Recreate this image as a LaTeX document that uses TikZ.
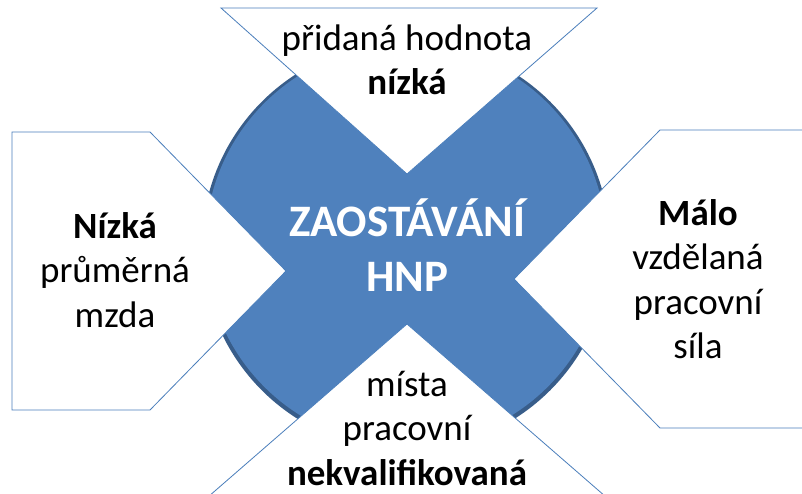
\documentclass[tikz,border=0pt]{standalone}
\usepackage{fontspec}
\setmainfont{Carlito}
\usepackage{tikz}
\usetikzlibrary{positioning}
\definecolor{hnpblue}{RGB}{79,129,189}
\definecolor{hnpdark}{RGB}{56,93,138}
\definecolor{hnpline}{RGB}{74,126,187}

\tikzset{
  causebox/.style={fill=white, draw=hnpline, line width=0.8pt, line join=miter},
  causetext/.style={align=center, inner sep=1pt, font=\fontsize{37}{44.5}\selectfont, text=black},
  maintext/.style={align=center, font=\bfseries\fontsize{45}{55}\selectfont, text=white}
}

\begin{document}
\begin{tikzpicture}[x=1pt, y=-1pt]
  \useasboundingbox (0,0) rectangle (802,494);
  \clip (0,0) rectangle (802,494);
  \fill[white] (0,0) rectangle (802,494);
  % kruh se stinem
  \fill[hnpdark] (406,246) circle[radius=204pt];
  \fill[hnpblue] (406,245) circle[radius=200.5pt];
  % ctyri bile vyrezy
  \draw[causebox] (221,8) -- (597,8) -- (407,174) -- cycle;
  \draw[causebox] (407,324) -- (621,510) -- (193,510) -- cycle;
  \draw[causebox] (12,132) -- (150,132) -- (286,271) -- (150,410) -- (12,410) -- cycle;
  \draw[causebox] (820,130) -- (660,130) -- (514,279) -- (660,428) -- (820,428) -- cycle;
  % texty
  \node[maintext] (hnp) at (407,245) {ZAOSTÁVÁNÍ\\HNP};
  \node[causetext] (pridana) at (407,60) {přidaná hodnota\\\textbf{nízká}};
  \node[causetext] (mzda) at (115,270) {\textbf{Nízká}\\průměrná\\mzda};
  \node[causetext] (sila) at (698,279) {\textbf{Málo}\\vzdělaná\\pracovní\\síla};
  \node[causetext] (mista) at (407,428) {místa\\pracovní\\\textbf{nekvalifikovaná}};
\end{tikzpicture}
\end{document}
